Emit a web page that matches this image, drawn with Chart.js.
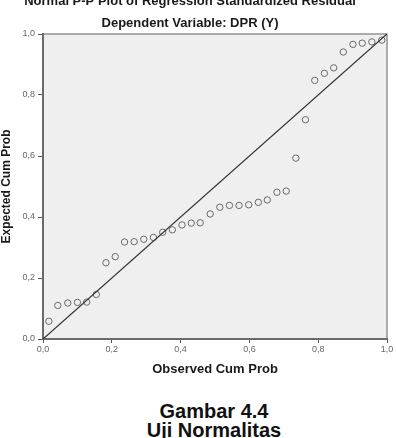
<!DOCTYPE html>
<html>
<head>
<meta charset="utf-8">
<script src="https://cdn.jsdelivr.net/npm/chart.js@4.4.1/dist/chart.umd.min.js"></script>
<style>
  html, body { margin:0; padding:0; background:#fff; overflow:hidden; width:396px; height:438px; }
  #wrap { position:absolute; left:-7px; top:-10px; width:403px; height:400px; }
  .cap { position:absolute; left:0; width:428px; text-align:center; font:bold 20px "Liberation Sans", Arial, sans-serif; line-height:20px; color:#111; }
</style>
</head>
<body>
<div id="wrap"><canvas id="c" width="403" height="400"></canvas></div>
<div class="cap" style="top:401px">Gambar 4.4</div>
<div class="cap" style="top:420px">Uji Normalitas</div>
<script>
// Observed cumulative probability (x) and expected cumulative probability (y)
const observedCumProb = [0.017,0.043,0.072,0.100,0.127,0.155,0.183,0.210,0.237,0.265,0.293,0.321,0.348,0.376,0.404,0.431,0.457,0.486,0.514,0.542,0.570,0.598,0.626,0.652,0.680,0.707,0.735,0.763,0.790,0.818,0.845,0.873,0.901,0.928,0.956,0.985];
const expectedCumProb = [0.058,0.110,0.118,0.120,0.121,0.146,0.250,0.270,0.318,0.319,0.327,0.333,0.350,0.358,0.374,0.380,0.381,0.410,0.432,0.438,0.438,0.440,0.448,0.456,0.481,0.485,0.593,0.719,0.848,0.871,0.889,0.941,0.966,0.970,0.974,0.980];
const refLine = [0, 1];
const tickLabels = ['0,0','0,2','0,4','0,6','0,8','1,0'];

const points = observedCumProb.map((x, i) => ({ x: x, y: expectedCumProb[i] }));
const diag = refLine.map(v => ({ x: v, y: v }));

const plotFrame = {
  id: 'plotFrame',
  beforeDraw(chart) {
    const a = chart.chartArea, ctx = chart.ctx;
    ctx.save();
    ctx.fillStyle = '#efefef';
    ctx.fillRect(a.left, a.top, a.right - a.left, a.bottom - a.top);
    ctx.restore();
  },
  beforeDatasetsDraw(chart) {
    const a = chart.chartArea, ctx = chart.ctx;
    ctx.save();
    ctx.strokeStyle = '#7a7a7a';
    ctx.lineWidth = 1.2;
    ctx.strokeRect(a.left, a.top, a.right - a.left, a.bottom - a.top);
    ctx.restore();
  }
};

const tickFont = { family: '"Liberation Sans", Arial, sans-serif', size: 9 };
const labelCb = (v) => {
  const i = Math.round(v / 0.2);
  return tickLabels[i] !== undefined ? tickLabels[i] : '';
};

new Chart(document.getElementById('c'), {
  type: 'scatter',
  data: {
    datasets: [
      {
        data: points,
        showLine: false,
        pointStyle: 'circle',
        pointRadius: 3.2,
        pointBorderWidth: 1,
        pointBorderColor: '#6a6a6a',
        pointBackgroundColor: 'rgba(0,0,0,0)',
        order: 2
      },
      {
        type: 'line',
        data: diag,
        showLine: true,
        borderColor: '#333',
        borderWidth: 1.3,
        pointRadius: 0,
        fill: false,
        order: 1
      }
    ]
  },
  options: {
    responsive: false,
    animation: false,
    devicePixelRatio: 1,
    layout: { padding: { left: 0, right: 9, top: 0, bottom: 0 } },
    plugins: {
      legend: { display: false },
      tooltip: { enabled: false },
      title: {
        display: true,
        text: 'Normal P-P Plot of Regression Standardized Residual',
        color: '#1a1a1a',
        font: { family: '"Liberation Sans", Arial, sans-serif', size: 13, weight: 'bold' },
        padding: { top: 4, bottom: 0 }
      },
      subtitle: {
        display: true,
        text: 'Dependent Variable: DPR (Y)',
        color: '#1a1a1a',
        font: { family: '"Liberation Sans", Arial, sans-serif', size: 13, weight: 'bold' },
        padding: { top: 5.6, bottom: 3.2 }
      }
    },
    scales: {
      x: {
        type: 'linear',
        min: 0, max: 1,
        afterFit: (s) => { s.height = 51; },
        ticks: { stepSize: 0.2, callback: labelCb, color: '#666', font: tickFont, padding: 1, maxRotation: 0 },
        grid: { display: true, drawOnChartArea: false, drawTicks: true, tickLength: 4, color: '#555' },
        border: { display: true, color: '#555', width: 2 },
        title: {
          display: true,
          text: 'Observed Cum Prob',
          color: '#1a1a1a',
          font: { family: '"Liberation Sans", Arial, sans-serif', size: 13, weight: 'bold' },
          padding: { top: 0, bottom: 13.2 }
        }
      },
      y: {
        type: 'linear',
        min: 0, max: 1,
        afterFit: (s) => { s.width = 50; },
        ticks: { stepSize: 0.2, callback: labelCb, color: '#666', font: tickFont, padding: 3 },
        grid: { display: true, drawOnChartArea: false, drawTicks: true, tickLength: 5, color: '#555' },
        border: { display: true, color: '#555', width: 2 },
        title: {
          display: true,
          text: 'Expected Cum Prob',
          color: '#1a1a1a',
          font: { family: '"Liberation Sans", Arial, sans-serif', size: 12, weight: 'bold' },
          padding: { top: 6.8, bottom: 0 }
        }
      }
    }
  },
  plugins: [plotFrame]
});
</script>
</body>
</html>
